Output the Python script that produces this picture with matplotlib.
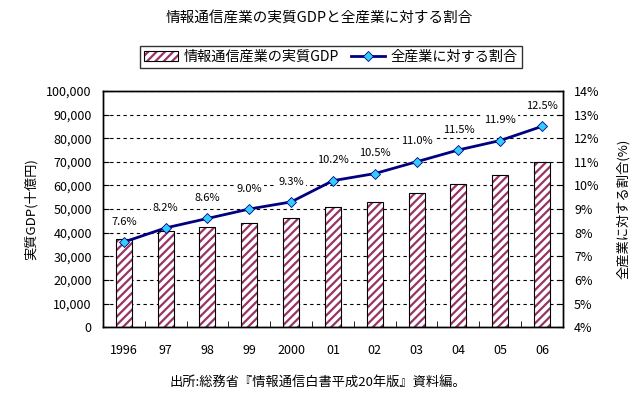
import matplotlib
matplotlib.use("Agg")
import matplotlib.pyplot as plt
from matplotlib.patches import Patch
from matplotlib.lines import Line2D
from matplotlib.ticker import FuncFormatter, MultipleLocator

plt.rcParams['font.family'] = ['Noto Sans CJK JP', 'DejaVu Sans']
plt.rcParams['hatch.linewidth'] = 1.6

# データ
years = ["1996", "97", "98", "99", "2000", "01", "02", "03", "04", "05", "06"]
gdp = [37500, 40900, 42300, 44000, 46100, 50800, 52900, 56700, 60500, 64400, 69700]
share = [7.6, 8.2, 8.6, 9.0, 9.3, 10.2, 10.5, 11.0, 11.5, 11.9, 12.5]

bar_hatch = "#993366"
line_col = "#000080"
marker_col = "#33CCFF"

fig = plt.figure(figsize=(6.39, 3.97), dpi=100)
ax = fig.add_axes([0.161, 0.176, 0.72, 0.595])

x = list(range(len(years)))

# 棒グラフ (斜線 + 黒枠)
ax.bar(x, gdp, width=0.38, color="white", edgecolor=bar_hatch, hatch="////",
       linewidth=0, zorder=2)
ax.bar(x, gdp, width=0.38, fill=False, edgecolor="black", linewidth=0.8, zorder=3)

ax.set_xlim(-0.5, len(years) - 0.5)
ax.set_ylim(0, 100000)
ax.yaxis.set_major_locator(MultipleLocator(10000))
ax.yaxis.set_major_formatter(FuncFormatter(lambda v, p: f"{int(v):,}"))
ax.set_xticks(x)
ax.set_xticklabels(years)
ax.set_xticks([i + 0.5 for i in x[:-1]], minor=True)
ax.tick_params(axis="x", which="major", length=0, pad=12, labelsize=9)
ax.tick_params(axis="x", which="minor", direction="in", length=4)
ax.tick_params(axis="y", direction="in", length=4, labelsize=9, pad=8)
ax.grid(axis="y", color="black", linestyle=(0, (3, 3)), linewidth=0.8, zorder=1)
ax.set_axisbelow(True)
ax.set_ylabel("実質GDP(十億円)", fontsize=9.5, labelpad=6)

# 折れ線 (右軸)
ax2 = ax.twinx()
ax2.plot(x, share, color=line_col, linewidth=2, marker="D", markersize=5.2,
         markerfacecolor=marker_col, markeredgecolor=line_col, markeredgewidth=0.6,
         zorder=5)
ax2.set_ylim(4, 14)
ax2.yaxis.set_major_locator(MultipleLocator(1))
ax2.yaxis.set_major_formatter(FuncFormatter(lambda v, p: f"{int(v)}%"))
ax2.tick_params(axis="y", direction="in", length=4, labelsize=9, pad=8)
ax2.set_ylabel("全産業に対する割合(%)", fontsize=9.5, rotation=90, labelpad=12)

for xi, s in zip(x, share):
    ax2.annotate(f"{s:.1f}%", (xi, s), xytext=(0, 11), textcoords="offset points",
                 ha="center", va="bottom", fontsize=8,
                 bbox=dict(facecolor="white", edgecolor="none", pad=1.5), zorder=4)

for a in (ax, ax2):
    for sp in a.spines.values():
        sp.set_color("black")
        sp.set_linewidth(1)

# 凡例
h_bar = (Patch(facecolor="white", edgecolor=bar_hatch, hatch="////", linewidth=0),
         Patch(fill=False, edgecolor="black", linewidth=0.8))
h_line = Line2D([], [], color=line_col, linewidth=2, marker="D", markersize=5.2,
                markerfacecolor=marker_col, markeredgecolor=line_col, markeredgewidth=0.6)
leg = fig.legend([h_bar, h_line], ["情報通信産業の実質GDP", "全産業に対する割合"],
                 loc="center", bbox_to_anchor=(0.518, 0.857), ncol=2, fontsize=10.2,
                 frameon=True, fancybox=False, edgecolor="black", borderpad=0.3,
                 handlelength=2.4, handletextpad=0.4, columnspacing=0.8,
                 borderaxespad=0)
leg.get_frame().set_linewidth(1)

fig.text(0.5, 0.955, "情報通信産業の実質GDPと全産業に対する割合", ha="center", va="center",
         fontsize=10.5)
fig.text(0.498, 0.038, "出所:総務省『情報通信白書平成20年版』資料編。", ha="center",
         va="center", fontsize=9.5)

fig.savefig("out.png", dpi=100)
